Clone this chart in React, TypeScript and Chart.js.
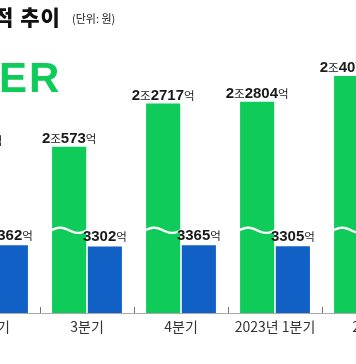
import React, { useEffect, useRef } from "react";
import { Chart, registerables } from "chart.js";

Chart.register(...registerables);

// ---- data (억원) ----
const categories = ["2분기", "3분기", "4분기", "2023년 1분기", "2분기"];
const revenue = [20458, 20573, 22717, 22804, 24079];
const operatingProfit = [3362, 3302, 3365, 3305, 3727];

// broken axis: amount omitted from the revenue bars, and where the break mark sits
const AXIS_GAP = 12330;
const BREAK_LEVEL = 4100;
const Y_MAX = 15520;

const GREEN = "#0fcb5a";
const BLUE = "#1160c6";
const SHIFT_X = 54;
const CANVAS_W = 470;
const CANVAS_H = 364;

type Part = [string, boolean];

function formatEok(v: number): Part[] {
  const jo = Math.floor(v / 10000);
  const eok = v % 10000;
  const parts: Part[] = [];
  if (jo > 0) {
    parts.push([String(jo), false]);
    parts.push(["조", true]);
  }
  parts.push([String(eok), false]);
  parts.push(["억", true]);
  return parts;
}

const DIGIT_FONT = "bold 15px 'Liberation Sans', Arial, sans-serif";
const UNIT_FONT = "11.5px 'Noto Sans CJK KR', sans-serif";

function drawParts(ctx: CanvasRenderingContext2D, parts: Part[], cx: number, baseline: number) {
  let total = 0;
  const widths: number[] = [];
  for (const [t, unit] of parts) {
    ctx.font = unit ? UNIT_FONT : DIGIT_FONT;
    const w = ctx.measureText(t).width;
    widths.push(w);
    total += w;
  }
  let x = cx - total / 2;
  ctx.textAlign = "left";
  ctx.textBaseline = "alphabetic";
  ctx.fillStyle = "#1a1a1a";
  parts.forEach(([t, unit], i) => {
    ctx.font = unit ? UNIT_FONT : DIGIT_FONT;
    ctx.fillText(t, x, baseline);
    x += widths[i];
  });
}

const overlay = {
  id: "overlay",
  afterDatasetsDraw(chart: any) {
    const ctx: CanvasRenderingContext2D = chart.ctx;
    const yScale = chart.scales.y;
    ctx.save();
    // break marks on revenue bars
    const green = chart.getDatasetMeta(0);
    const yBreak = yScale.getPixelForValue(BREAK_LEVEL);
    green.data.forEach((bar: any) => {
      const left = bar.x - bar.width / 2 - 1;
      const w = bar.width + 2;
      ctx.beginPath();
      for (let i = 0; i <= 40; i++) {
        const t = i / 40;
        const x = left + t * w;
        const y = yBreak - 2.6 * Math.sin(2 * Math.PI * t);
        if (i === 0) ctx.moveTo(x, y);
        else ctx.lineTo(x, y);
      }
      ctx.strokeStyle = "#ffffff";
      ctx.lineWidth = 2.4;
      ctx.lineCap = "round";
      ctx.stroke();
    });
    // value labels
    green.data.forEach((bar: any, i: number) => {
      drawParts(ctx, formatEok(revenue[i]), bar.x, bar.y - 4);
    });
    const blue = chart.getDatasetMeta(1);
    blue.data.forEach((bar: any, i: number) => {
      drawParts(ctx, formatEok(operatingProfit[i]), bar.x, bar.y - 5);
    });
    ctx.restore();
  },
  afterDraw(chart: any) {
    const ctx: CanvasRenderingContext2D = chart.ctx;
    ctx.save();
    ctx.textAlign = "left";
    ctx.textBaseline = "alphabetic";
    ctx.fillStyle = "#111";
    ctx.font = "900 21px 'Noto Sans CJK KR', sans-serif";
    (ctx as any).letterSpacing = "1px";
    ctx.fillText("적 추이", -6 + SHIFT_X, 25);
    (ctx as any).letterSpacing = "0px";
    ctx.fillStyle = "#222";
    ctx.font = "11px 'Noto Sans CJK KR', sans-serif";
    ctx.fillText("(단위: 원)", 72 + SHIFT_X, 23);
    ctx.fillStyle = GREEN;
    ctx.font = "bold 42px 'Liberation Sans', Arial, sans-serif";
    (ctx as any).letterSpacing = "2px";
    ctx.fillText("ER", -1 + SHIFT_X, 92);
    (ctx as any).letterSpacing = "0px";
    ctx.restore();
  },
};

export default function App() {
  const ref = useRef<HTMLCanvasElement | null>(null);
  useEffect(() => {
    if (!ref.current) return;
    const chart = new Chart(ref.current, {
      type: "bar",
      data: {
        labels: categories,
        datasets: [
          {
            label: "매출",
            data: revenue.map((v) => v - AXIS_GAP),
            backgroundColor: GREEN,
            barPercentage: 0.955,
            categoryPercentage: 0.76,
          },
          {
            label: "영업이익",
            data: operatingProfit,
            backgroundColor: BLUE,
            barPercentage: 0.955,
            categoryPercentage: 0.76,
          },
        ],
      },
      options: {
        animation: false,
        responsive: false,
        maintainAspectRatio: false,
        devicePixelRatio: 1,
        layout: { padding: 0 },
        plugins: {
          legend: { display: false },
          tooltip: { enabled: false },
        },
        scales: {
          x: {
            grid: {
              display: true,
              drawOnChartArea: false,
              drawTicks: true,
              tickLength: -6,
              color: "#777",
              lineWidth: 1,
              offset: true,
            },
            border: { display: true, color: "#aaa", width: 1 },
            ticks: {
              color: "#333",
              font: { family: "'Noto Sans CJK KR', sans-serif", size: 14 },
              padding: 11,
              autoSkip: false,
              maxRotation: 0,
              minRotation: 0,
            },
            afterFit: (s: any) => {
              s.height = 51;
            },
          },
          y: { display: false, min: 0, max: Y_MAX },
        },
      },
      plugins: [overlay],
    } as any);
    return () => chart.destroy();
  }, []);

  return (
    <div
      style={{
        position: "fixed",
        left: 0,
        top: 0,
        width: 356,
        height: 364,
        overflow: "hidden",
        background: "#fff",
      }}
    >
      <canvas
        ref={ref}
        width={CANVAS_W}
        height={CANVAS_H}
        style={{ position: "absolute", left: -SHIFT_X, top: 0, width: CANVAS_W, height: CANVAS_H }}
      />
    </div>
  );
}
